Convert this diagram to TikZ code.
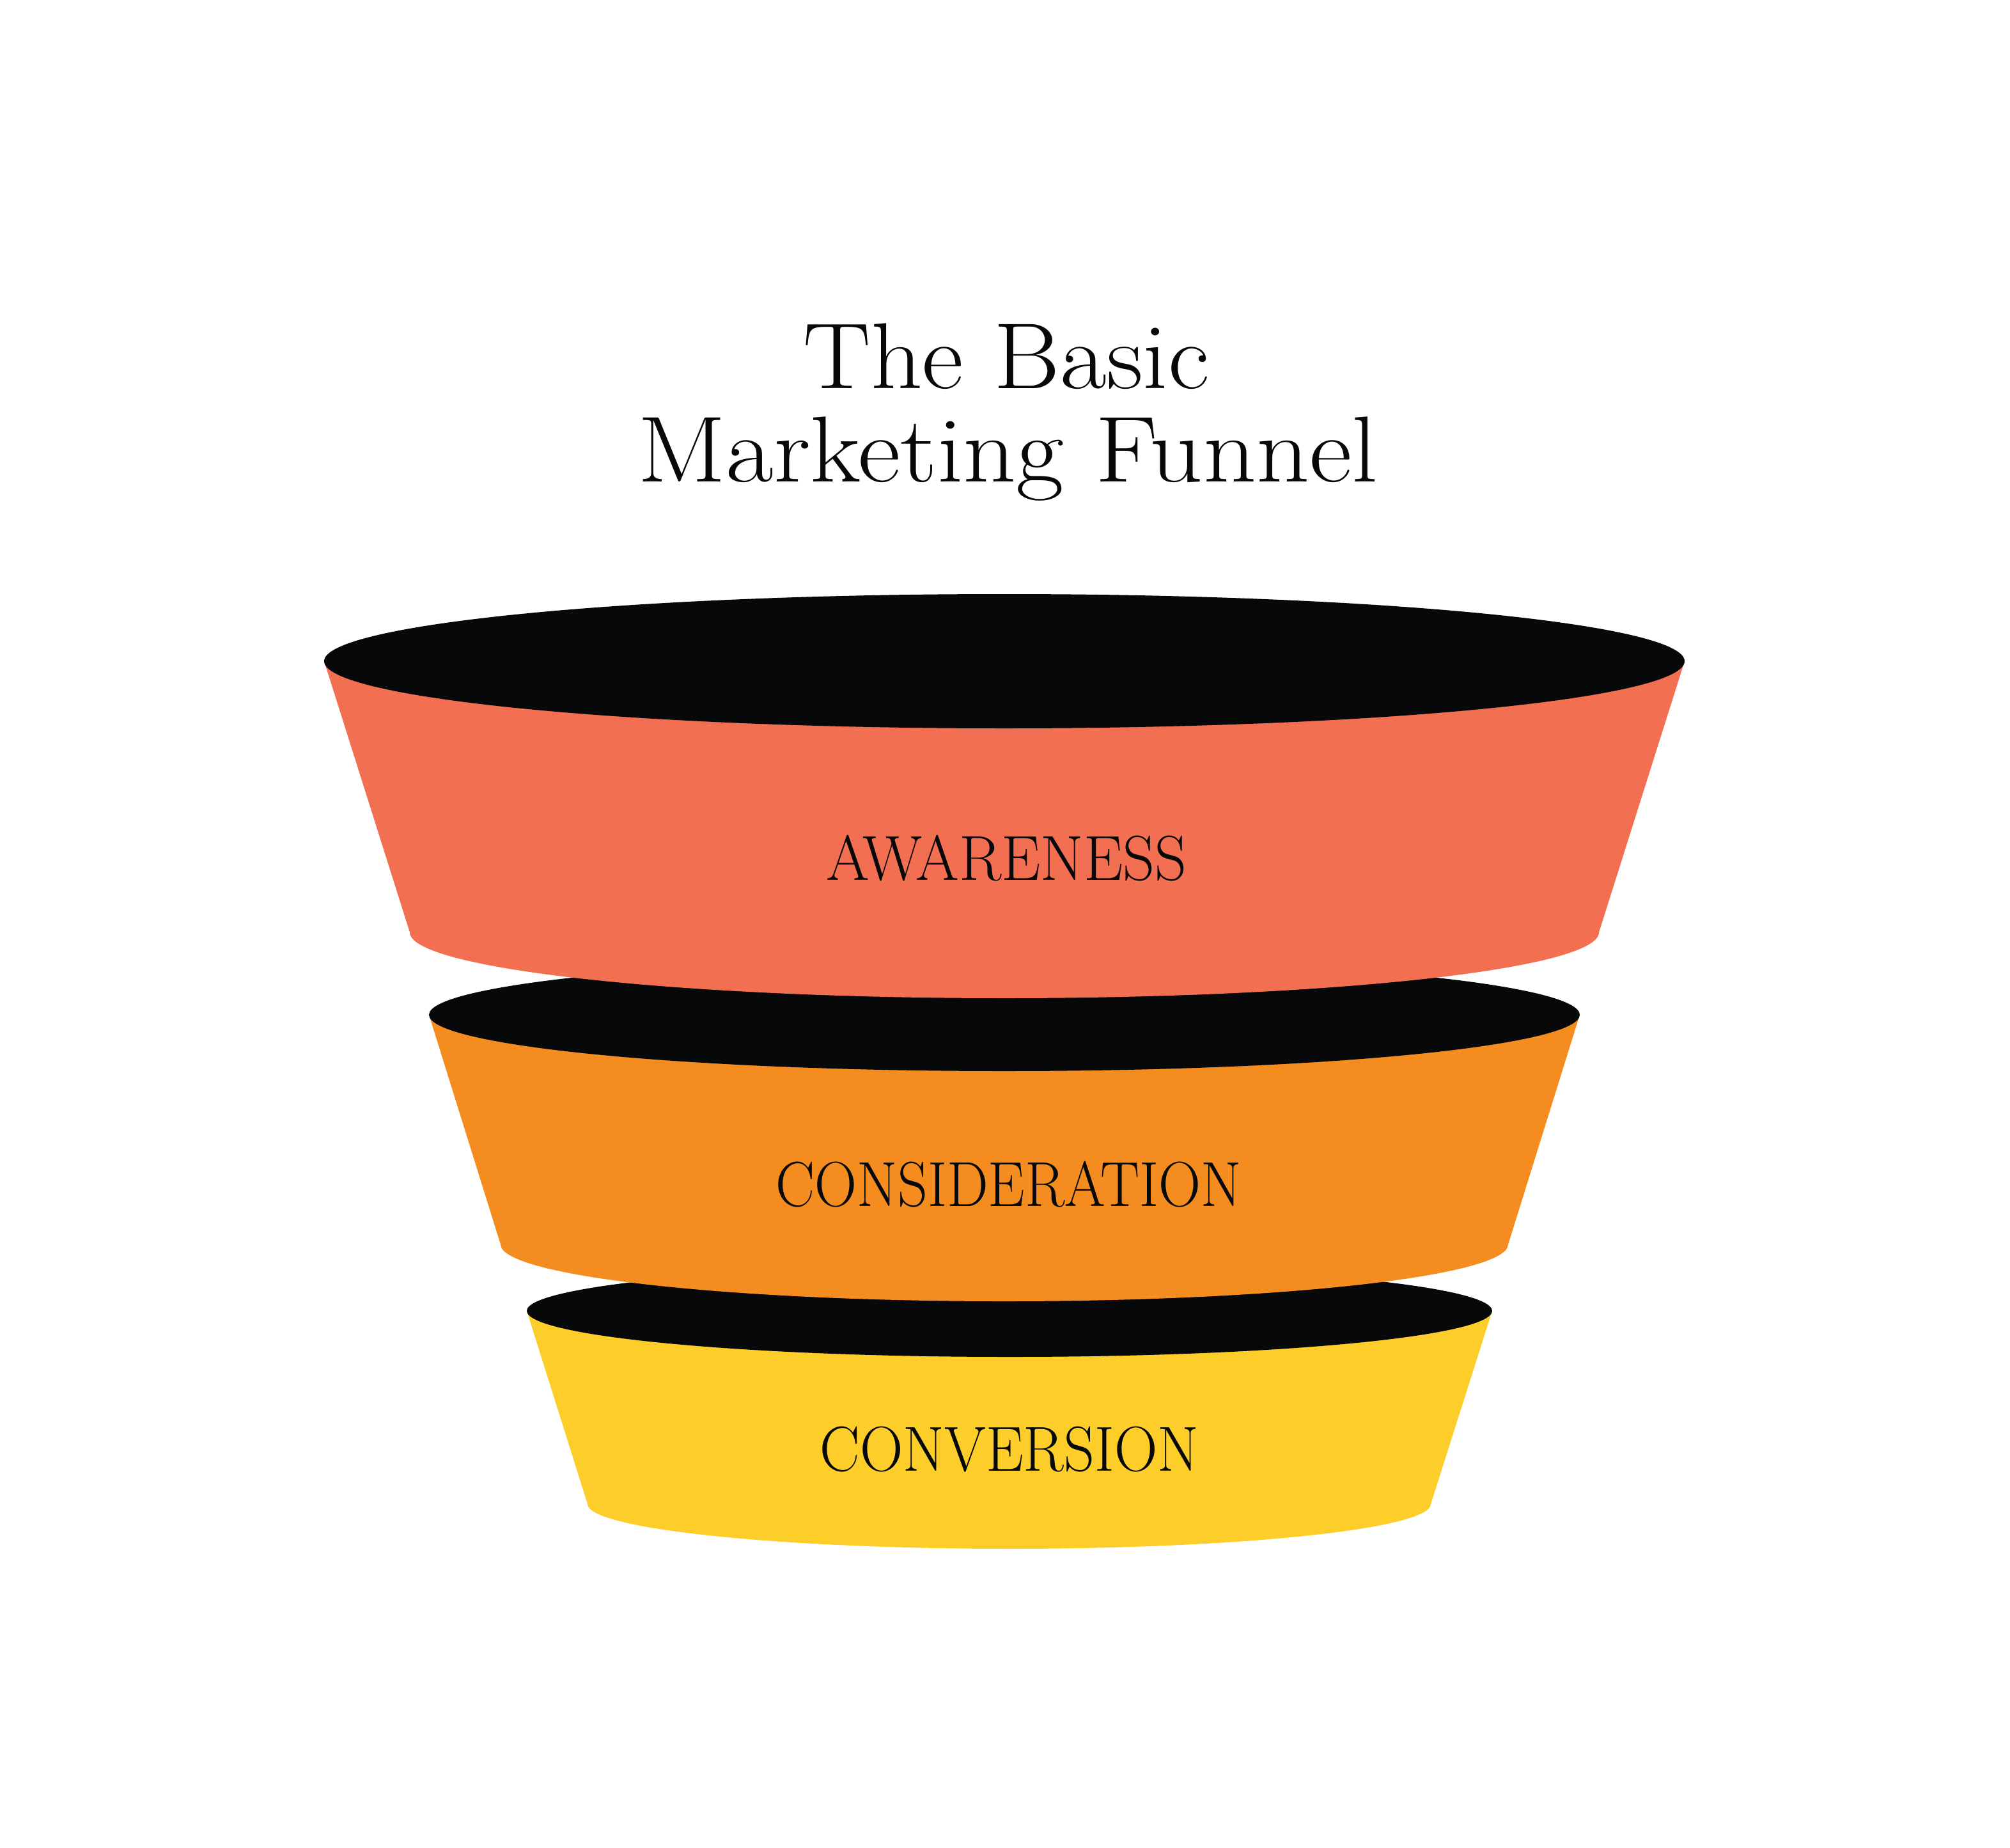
\documentclass[tikz,border=0pt]{standalone}
\usepackage{graphicx}
\usepackage{tikz}
\definecolor{funnel_black}{HTML}{07080A}
\definecolor{funnel_red}{HTML}{F26F52}
\definecolor{funnel_orange}{HTML}{F58C1F}
\definecolor{funnel_yellow}{HTML}{FDCD2A}

\begin{document}
\begin{tikzpicture}[
    title/.style={font=\fontsize{41.7}{42}\selectfont, text=funnel_black, inner sep=0pt, anchor=base},
    stage/.style={font=\fontsize{28.3}{29}\selectfont, text=funnel_black, inner sep=0pt},
    rim/.style={fill=funnel_black}
]

%% ================================================================
%% Seitenformat (weisser Hintergrund)
%% ================================================================
\fill[white] (0,0) rectangle (31.44,-28.90);
\useasboundingbox (0,0) rectangle (31.44,-28.90);

\def\mid{15.71}

%% ================================================================
%% TITEL
%% ================================================================
\node[title] (title_top) at (15.74,-6.07) {\scalebox{1.08}[1]{The Basic}};
\node[title] (title_bottom) at (15.76,-7.53) {\scalebox{1.11}[1]{Marketing Funnel}};

%% ================================================================
%% UNTERE STUFE: Conversion
%% ================================================================
\fill[funnel_yellow]
    (8.24,-20.50) -- (9.19,-23.52)
    arc[start angle=180, end angle=360, x radius=6.595, y radius=0.70]
    -- (23.34,-20.50) -- cycle;
\fill[rim] (15.79,-20.50) ellipse [x radius=7.55, y radius=0.72];
\node[stage] (conversion) at (15.79,-22.67) {\scalebox{0.94}[1]{CONVERSION}};

%% ================================================================
%% MITTLERE STUFE: Consideration
%% ================================================================
\fill[funnel_orange]
    (6.71,-15.87) -- (7.83,-19.46)
    arc[start angle=180, end angle=360, x radius=7.88, y radius=0.89]
    -- (24.71,-15.87) -- cycle;
\fill[rim] (\mid,-15.87) ellipse [x radius=9.00, y radius=0.88];
\node[stage] (consideration) at (15.78,-18.52) {\scalebox{0.92}[1]{CONSIDERATION}};

%% ================================================================
%% OBERE STUFE: Awareness
%% ================================================================
\fill[funnel_red]
    (5.07,-10.34) -- (6.41,-14.58)
    arc[start angle=180, end angle=360, x radius=9.30, y radius=1.03]
    -- (26.35,-10.34) -- cycle;
\fill[rim] (\mid,-10.34) ellipse [x radius=10.64, y radius=1.05];
\node[stage] (awareness) at (15.74,-13.42) {\scalebox{0.98}[1]{AWARENESS}};

\end{tikzpicture}
\end{document}
